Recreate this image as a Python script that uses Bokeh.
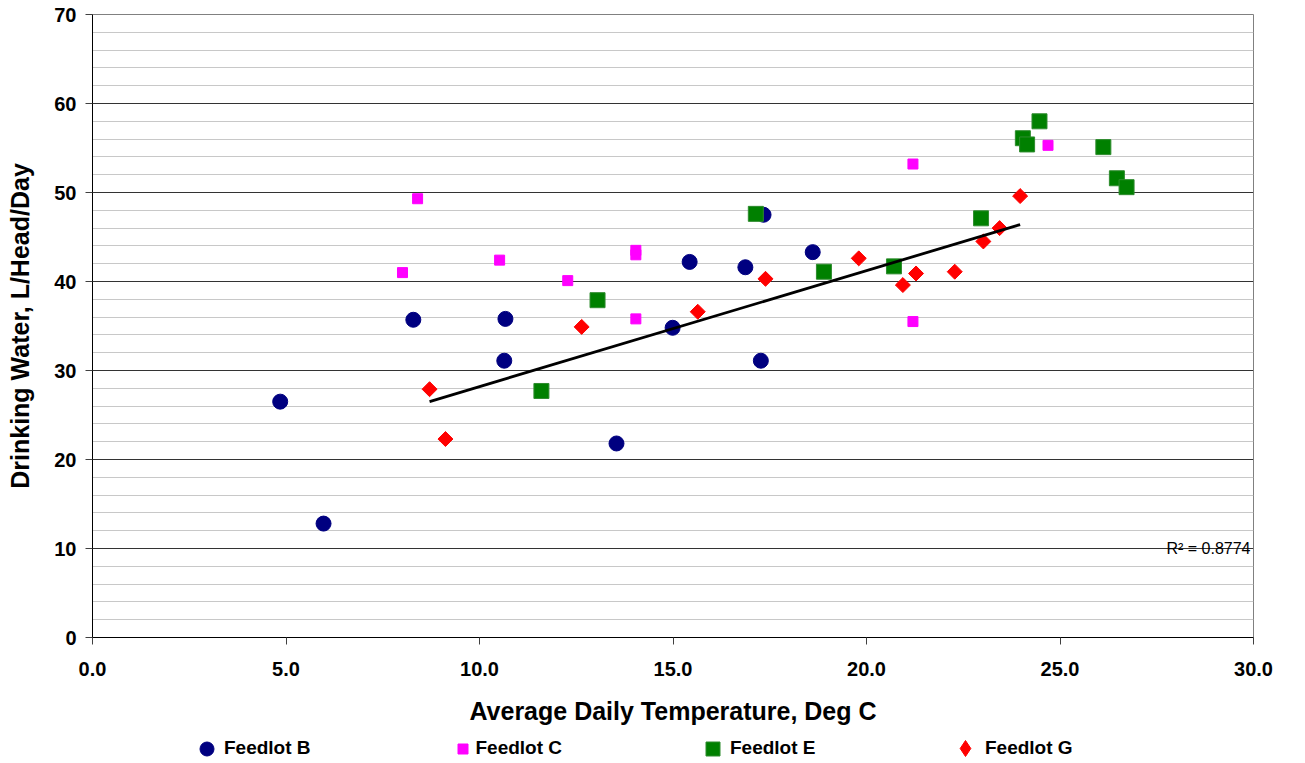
import numpy as np
from bokeh.plotting import figure
from bokeh.layouts import column
from bokeh.models import (Range1d, SingleIntervalTicker, NumeralTickFormatter,
                          Legend, LegendItem, Label)
from bokeh.embed import file_html
from bokeh.resources import INLINE

# ---- data ----
b_x = [4.85, 5.97, 8.29, 10.67, 10.64, 13.54, 14.99, 15.43, 16.87, 17.34, 17.27, 18.61]
b_y = [26.5, 12.8, 35.7, 35.8, 31.1, 21.8, 34.8, 42.2, 41.6, 47.5, 31.1, 43.3]

c_x = [8.01, 8.40, 10.52, 12.28, 14.04, 14.04, 14.04, 21.20, 21.20, 24.69]
c_y = [41.0, 49.3, 42.4, 40.1, 43.5, 43.0, 35.8, 53.2, 35.5, 55.3]

e_x = [11.60, 13.05, 17.14, 18.90, 20.71, 22.96, 24.04, 24.15, 24.47, 26.12, 26.47, 26.72]
e_y = [27.7, 37.9, 47.6, 41.1, 41.7, 47.1, 56.1, 55.4, 58.0, 55.1, 51.6, 50.6]

g_x = [8.71, 9.12, 12.64, 15.64, 17.39, 19.80, 20.94, 21.28, 22.28, 23.02, 23.44, 23.97]
g_y = [27.9, 22.3, 34.9, 36.6, 40.3, 42.6, 39.6, 40.9, 41.1, 44.5, 46.0, 49.6]

series_names = ["Feedlot B", "Feedlot C", "Feedlot E", "Feedlot G"]
r_squared = "R\u00b2 = 0.8774"
x_title = "Average Daily Temperature, Deg C"
y_title = "Drinking Water, L/Head/Day"

FONT = "Liberation Sans"

# marker styles per series (plot)
styles = [
    dict(marker="circle", size=15, fill_color="#000080", line_color="#000080"),
    dict(marker="square", size=10, fill_color="#FF00FF", line_color="#FF00FF"),
    dict(marker="square", size=15, fill_color="#008000", line_color="#2e8b2e"),
    dict(marker="square", angle=np.pi / 4, size=10.6, fill_color="#FF0000", line_color="#FF0000"),
]
# legend keys (legend draws markers unrotated, so use the diamond marker there)
legend_markers = ["circle", "square", "square", "diamond"]
xs_all = [b_x, c_x, e_x, g_x]
ys_all = [b_y, c_y, e_y, g_y]

p = figure(width=1305, height=733, x_range=Range1d(0, 30), y_range=Range1d(0, 70),
           output_backend="svg", toolbar_location=None,
           min_border_left=92, min_border_right=52, min_border_top=14, min_border_bottom=96,
           background_fill_color="white", border_fill_color="white")

p.outline_line_color = "#808080"
p.outline_line_width = 1

# axes
p.xaxis.ticker = SingleIntervalTicker(interval=5, num_minor_ticks=0)
p.yaxis.ticker = SingleIntervalTicker(interval=10, num_minor_ticks=5)
p.xaxis.formatter = NumeralTickFormatter(format="0.0")
p.yaxis.formatter = NumeralTickFormatter(format="0")
for ax in (p.xaxis[0], p.yaxis[0]):
    ax.axis_line_color = "black"
    ax.axis_line_width = 1
    ax.major_tick_line_color = "#404040"
    ax.major_tick_in = 0
    ax.major_tick_out = 7
    ax.minor_tick_line_color = None
    ax.major_label_text_font = FONT
    ax.major_label_text_font_style = "bold"
    ax.major_label_text_font_size = "20px"
    ax.major_label_text_color = "black"
    ax.axis_label_text_font = FONT
    ax.axis_label_text_font_style = "bold"
    ax.axis_label_text_font_size = "25px"
    ax.axis_label_text_color = "black"
p.xaxis.axis_label = x_title
p.yaxis.axis_label = y_title
p.xaxis.major_label_standoff = 17
p.xaxis.axis_label_standoff = 18
p.yaxis.major_label_standoff = 9
p.yaxis.axis_label_standoff = 17

# grid
p.xgrid.grid_line_color = None
p.ygrid.grid_line_color = "#333333"
p.ygrid.grid_line_width = 1
p.ygrid.minor_grid_line_color = "#c8c8c8"
p.ygrid.minor_grid_line_width = 1

# scatter series
for xs, ys, st in zip(xs_all, ys_all, styles):
    p.scatter(xs, ys, **st)

# linear trend line (fitted to Feedlot G)
coef = np.polyfit(g_x, g_y, 1)
tx = np.array([min(g_x), max(g_x)])
p.line(tx, np.polyval(coef, tx), line_color="black", line_width=2.8)

# R^2 label (kept inside the plot frame so it is not clipped)
p.add_layout(Label(x=30, y=10.0, x_offset=-3, text=r_squared, text_font=FONT,
                   text_font_size="16px", text_color="black",
                   text_align="right", text_baseline="alphabetic"))

# legend strip below the chart (its renderers' points lie outside its view range)
lg = figure(width=1305, height=30, x_range=Range1d(0, 1), y_range=Range1d(0, 1),
            output_backend="svg", toolbar_location=None, x_axis_type=None, y_axis_type=None,
            min_border=0, background_fill_color="white", border_fill_color="white")
lg.outline_line_color = None
lg.grid.visible = False

# per item: (glyph box size -> marker size is 0.4 of it, x location, y location, label standoff)
legend_layout = [(35, 97, -2.5, 0), (25, 357.5, 2.5, 1), (35, 603, -2.5, 0), (40, 853, -5, 0)]
for name, xs, ys, st, mk, (gs, vx, vy, so) in zip(series_names, xs_all, ys_all, styles,
                                                  legend_markers, legend_layout):
    r = lg.scatter(xs, ys, marker=mk, size=st["size"], fill_color=st["fill_color"],
                   line_color=st["line_color"])
    leg = Legend(items=[LegendItem(label=name, renderers=[r])], location=(vx, vy),
                 orientation="horizontal", padding=0, margin=0, border_line_alpha=0,
                 background_fill_alpha=0, glyph_width=gs, glyph_height=gs, label_standoff=so,
                 label_text_font=FONT, label_text_font_style="bold",
                 label_text_font_size="19px", label_text_color="black")
    lg.add_layout(leg)

open("out.html", "w").write(file_html(column(p, lg), INLINE))
